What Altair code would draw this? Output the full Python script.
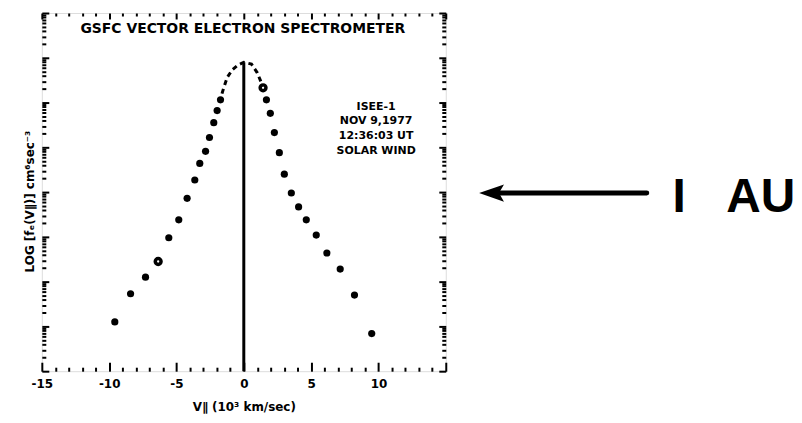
import altair as alt
import numpy as np
import pandas as pd

# ---- data (x in 10^3 km/sec, y in decades of log f) ----
left_x = [-9.58, -8.41, -7.30, -6.36, -5.57, -4.83, -4.21, -3.64, -3.27, -2.84, -2.55, -2.23, -1.98, -1.73]
left_y = [1.10, 1.73, 2.10, 2.45, 2.98, 3.38, 3.86, 4.27, 4.64, 4.91, 5.22, 5.55, 5.82, 6.06]
left_open = [0, 0, 0, 1, 0, 0, 0, 0, 0, 0, 0, 0, 0, 0]
right_x = [1.43, 1.68, 1.97, 2.27, 2.64, 3.01, 3.53, 4.07, 4.64, 5.38, 6.17, 7.16, 8.22, 9.50]
right_y = [6.33, 6.06, 5.76, 5.33, 4.88, 4.40, 3.98, 3.67, 3.38, 3.04, 2.64, 2.28, 1.70, 0.84]
right_open = [1, 0, 0, 0, 0, 0, 0, 0, 0, 0, 0, 0, 0, 0]

core_x = [-1.62, -1.48, -1.23, -0.86, -0.42, 0.0, 0.57, 0.99, 1.24, 1.40]
core_y = [6.20, 6.34, 6.56, 6.73, 6.84, 6.90, 6.86, 6.67, 6.49, 6.36]

peak_x = [0.0]
peak_y = [6.90]

x_ticks = list(range(-15, 16))
y_ticks = sorted(set([round(n + np.log10(k), 4) for n in range(0, 8) for k in range(1, 10)] + [8.0]))

title_text = "GSFC VECTOR ELECTRON SPECTROMETER"
note_lines = "ISEE-1\nNOV 9,1977\n12:36:03 UT\nSOLAR WIND"
x_title = "V\u2225 (10\u00b3 km/sec)"
y_title = "LOG [f\u2091(V\u2225)] cm\u2076sec\u207b\u00b3"

pts = pd.DataFrame({
    "v": left_x + right_x,
    "f": left_y + right_y,
    "open": left_open + right_open,
})
filled = pts[pts["open"] == 0]
hollow = pts[pts["open"] == 1]
core = pd.DataFrame({"v": core_x, "f": core_y})
peak = pd.DataFrame({"v": peak_x, "f0": [0.0], "f": peak_y})
one = pd.DataFrame({"a": [0]})

xs = alt.Scale(domain=[-15, 15], nice=False, zero=False)
ys = alt.Scale(domain=[0, 8], nice=False, zero=False)

FONT = "DejaVu Sans"

x_major = "abs(datum.value % 5) < 0.01"
y_major = "abs(datum.value - round(datum.value)) < 0.001"

x_bottom = alt.Axis(
    orient="bottom", values=x_ticks, domain=False, grid=False,
    tickSize={"expr": f"{x_major} ? -9 : -4"}, tickWidth=2, tickColor="black",
    labelExpr=f"({x_major} && datum.value < 15) ? '' + datum.value : ''",
    labelFont=FONT, labelFontSize=12, labelFontWeight="bold", labelColor="black",
    labelPadding=16, labelFlush=False, labelOverlap=False,
    title=x_title, titleFont=FONT, titleFontSize=12, titleFontWeight="bold",
    titleColor="black", titleY=40, titleBaseline="alphabetic",
)
y_left = alt.Axis(
    orient="left", values=y_ticks, domain=False, grid=False,
    tickSize={"expr": f"{y_major} ? -7 : -4"}, tickWidth=2, tickColor="black",
    labels=False,
    title=y_title, titleFont=FONT, titleFontSize=12, titleFontWeight="bold",
    titleColor="black", titleAngle=-90, titleX=-12, titleY=189,
    titleAlign="center", titleBaseline="middle",
)
x_top = alt.Axis(
    orient="top", values=x_ticks, domain=False, grid=False,
    tickSize={"expr": f"{x_major} ? -6 : -3"}, tickWidth=2, tickColor="black",
    labels=False, title=None,
)
y_right = alt.Axis(
    orient="right", values=y_ticks, domain=False, grid=False,
    tickSize={"expr": f"{y_major} ? -7 : -4"}, tickWidth=2, tickColor="black",
    labels=False, title=None,
)

pts_layer = alt.Chart(filled).mark_circle(size=52, color="black", opacity=1).encode(
    x=alt.X("v:Q", scale=xs, axis=x_bottom),
    y=alt.Y("f:Q", scale=ys, axis=y_left),
)
open_layer = alt.Chart(hollow).mark_point(size=34, color="black", strokeWidth=3.5, filled=False, opacity=1).encode(
    x=alt.X("v:Q", scale=xs, axis=None),
    y=alt.Y("f:Q", scale=ys, axis=None),
)
core_layer = alt.Chart(core).mark_line(color="black", strokeWidth=3, strokeDash=[5, 4]).encode(
    x=alt.X("v:Q", scale=xs, axis=x_top),
    y=alt.Y("f:Q", scale=ys, axis=y_right),
    order="v:Q",
)
rule_layer = alt.Chart(peak).mark_rule(color="black", strokeWidth=3).encode(
    x=alt.X("v:Q", scale=xs, axis=None),
    y=alt.Y("f0:Q", scale=ys, axis=None),
    y2="f:Q",
)

title_layer = alt.Chart(one).mark_text(
    text=title_text, font=FONT, fontSize=14, fontWeight="bold", color="black",
    align="center", baseline="middle",
).encode(x=alt.value(202), y=alt.value(16))

note_layer = alt.Chart(one).mark_text(
    text=note_lines, font=FONT, fontSize=11, fontWeight="bold", color="black",
    align="center", baseline="top", lineBreak="\n", lineHeight=15,
).encode(x=alt.value(336), y=alt.value(88))

arrow_shaft = alt.Chart(one).mark_rule(color="black", strokeWidth=5, strokeCap="round").encode(
    x=alt.value(455), x2=alt.value(608), y=alt.value(181),
)
arrow_head = alt.Chart(one).mark_point(
    shape="M-1,0L1,-0.7L0.6,0L1,0.7Z", size=625, filled=True, color="black", opacity=1,
).encode(x=alt.value(452), y=alt.value(181))

au_i = alt.Chart(one).mark_text(
    text="I", font="Liberation Sans", fontSize=48, fontWeight="bold", color="black",
    align="left", baseline="alphabetic",
).encode(x=alt.value(634), y=alt.value(200))
au_au = alt.Chart(one).mark_text(
    text="AU", font="Liberation Sans", fontSize=48, fontWeight="bold", color="black",
    align="left", baseline="alphabetic",
).encode(x=alt.value(688), y=alt.value(200))

chart = alt.layer(
    rule_layer, core_layer, pts_layer, open_layer,
    title_layer, note_layer, arrow_shaft, arrow_head, au_i, au_au,
).resolve_axis(
    x="independent", y="independent"
).properties(
    width=406, height=360,
    autosize=alt.AutoSizeParams(type="none"),
    padding={"left": 34, "top": 4, "right": 350, "bottom": 44},
    background="white",
).configure_view(
    stroke="black", strokeWidth=3,
).configure(font=FONT)

chart.save("out.html", embed_options={"renderer": "svg", "actions": False})
